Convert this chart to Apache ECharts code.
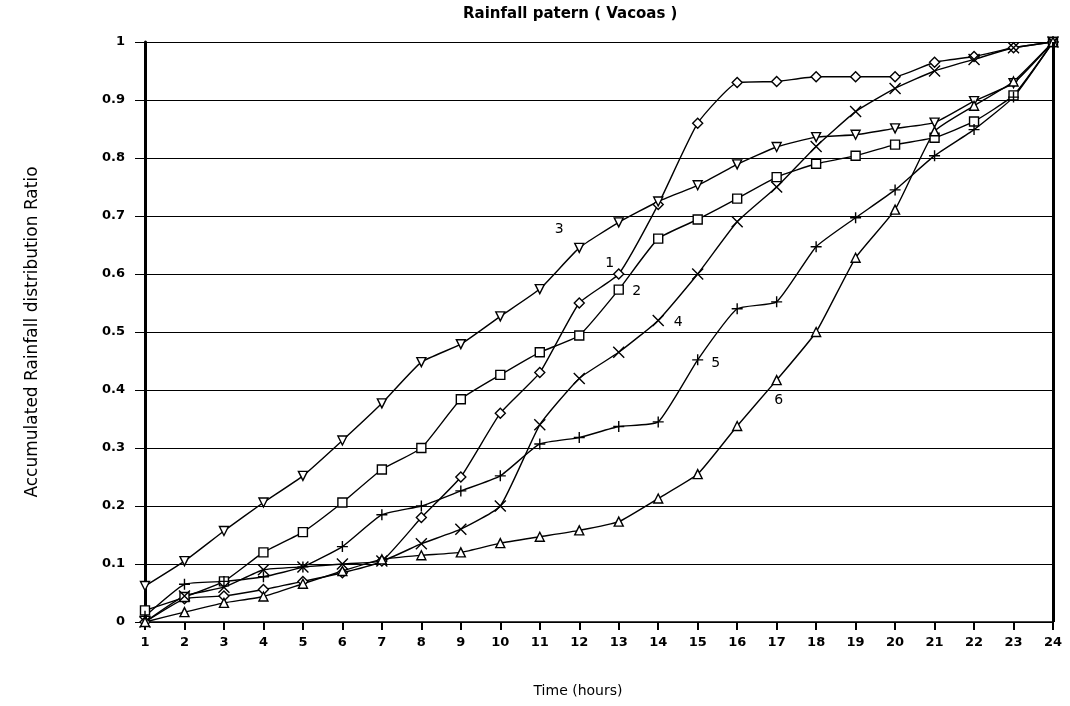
<!DOCTYPE html>
<html>
<head>
<meta charset="utf-8">
<title>Rainfall patern (Vacoas)</title>
<script src="https://cdn.jsdelivr.net/npm/echarts@6/dist/echarts.min.js"></script>
<style>
  html, body { margin: 0; padding: 0; background: #fff; }
  #main { width: 1070px; height: 706px; }
</style>
</head>
<body>
<div id="main"></div>
<script>
// hours on the x axis
const hours = [1,2,3,4,5,6,7,8,9,10,11,12,13,14,15,16,17,18,19,20,21,22,23,24];
const yTicks = [0,0.1,0.2,0.3,0.4,0.5,0.6,0.7,0.8,0.9,1];

// accumulated ratio per pattern
const pattern1 = [0.00,0.040,0.045,0.056,0.070,0.085,0.105,0.180,0.250,0.360,0.430,0.550,0.600,0.720,0.860,0.930,0.932,0.940,0.940,0.940,0.965,0.975,0.990,1.00];
const pattern2 = [0.02,0.043,0.070,0.120,0.155,0.206,0.263,0.300,0.384,0.426,0.465,0.494,0.573,0.661,0.694,0.730,0.767,0.790,0.804,0.823,0.835,0.863,0.908,1.00];
const pattern3 = [0.062,0.105,0.157,0.206,0.252,0.313,0.377,0.448,0.479,0.527,0.574,0.645,0.689,0.725,0.753,0.789,0.819,0.836,0.840,0.851,0.861,0.898,0.929,1.00];
const pattern4 = [0.00,0.045,0.060,0.090,0.095,0.100,0.105,0.135,0.160,0.200,0.340,0.420,0.465,0.520,0.600,0.690,0.750,0.820,0.880,0.920,0.950,0.970,0.990,1.00];
const pattern5 = [0.01,0.065,0.070,0.078,0.095,0.130,0.185,0.200,0.226,0.252,0.307,0.318,0.337,0.345,0.452,0.540,0.552,0.647,0.697,0.745,0.804,0.849,0.905,1.00];
const pattern6 = [0.00,0.017,0.033,0.044,0.066,0.088,0.108,0.115,0.120,0.136,0.147,0.158,0.173,0.213,0.255,0.338,0.417,0.500,0.628,0.711,0.846,0.890,0.932,1.00];

const FONT = 'DejaVu Sans';
const crossPath = 'path://M0,0L10,10M10,0L0,10';
const plusPath = 'path://M5,0L5,10M0,5L10,5';

// builds [hour, value] pairs, with the curve number shown next to one point
function makeData(values, labelHour, labelText, offset) {
    return values.map((v, i) => {
        if (hours[i] !== labelHour) return [hours[i], v];
        return {
            value: [hours[i], v],
            label: {
                show: true, position: 'inside', offset: offset,
                formatter: labelText, color: '#000',
                fontFamily: FONT, fontSize: 14
            }
        };
    });
}

function makeSeries(name, values, symbol, size, rotate, labelHour, labelText, offset) {
    return {
        name: name,
        type: 'line',
        data: makeData(values, labelHour, labelText, offset),
        symbol: symbol,
        symbolSize: size,
        symbolRotate: rotate,
        showAllSymbol: true,
        smooth: 0.15,
        lineStyle: { color: '#000', width: 1.4 },
        itemStyle: { color: '#fff', borderColor: '#000', borderWidth: 1.4 },
        emphasis: { disabled: true },
        z: 3
    };
}

const chart = echarts.init(document.getElementById('main'));
chart.setOption({
    animation: false,
    backgroundColor: '#fff',
    title: {
        text: 'Rainfall patern ( Vacoas )',
        left: 458, top: 2,
        textStyle: { fontFamily: FONT, fontSize: 15, fontWeight: 'bold', color: '#000' }
    },
    grid: { left: 145, right: 17, top: 42, bottom: 84 },
    xAxis: {
        type: 'value',
        min: 1, max: 24, interval: 1,
        name: 'Time (hours)',
        nameLocation: 'middle',
        nameGap: 62,
        nameTextStyle: { fontFamily: FONT, fontSize: 14, color: '#000', padding: [0, 42, 0, 0] },
        axisLine: { onZero: false, lineStyle: { color: '#000', width: 1.5 } },
        axisTick: { show: true, length: 8, lineStyle: { color: '#000', width: 2 } },
        axisLabel: { margin: 14, fontFamily: FONT, fontSize: 13, fontWeight: 'bold', color: '#000' },
        splitLine: { show: false }
    },
    yAxis: {
        type: 'value',
        min: yTicks[0], max: yTicks[yTicks.length - 1], interval: 0.1,
        name: 'Accumulated Rainfall distribution Ratio',
        nameLocation: 'middle',
        nameGap: 104,
        nameTextStyle: { fontFamily: FONT, fontSize: 17, color: '#000' },
        axisLine: { show: true, lineStyle: { color: '#000', width: 3 } },
        axisTick: { show: true, length: 10, lineStyle: { color: '#000', width: 1 } },
        axisLabel: {
            margin: 20, fontFamily: FONT, fontSize: 13, fontWeight: 'bold', color: '#000',
            formatter: v => (v === 0 || v === 1) ? String(v) : v.toFixed(1)
        },
        splitLine: { show: true, lineStyle: { color: '#000', width: 1.2 } }
    },
    series: [
        makeSeries('1', pattern1, 'diamond', 10, 0, 13, '1', [-9, -11]),
        makeSeries('2', pattern2, 'rect', 9, 0, 13, '2', [18, 2]),
        makeSeries('3', pattern3, 'triangle', 9, 180, 12, '3', [-20, -19]),
        makeSeries('4', pattern4, crossPath, 11, 0, 14, '4', [20, 2]),
        makeSeries('5', pattern5, plusPath, 11, 0, 15, '5', [18, 4]),
        makeSeries('6', pattern6, 'triangle', 9, 0, 17, '6', [2, 20]),
        // right frame line
        {
            type: 'line', data: [], silent: true,
            markLine: {
                symbol: 'none', silent: true, label: { show: false },
                lineStyle: { color: '#000', width: 3, type: 'solid' },
                data: [{ xAxis: hours[hours.length - 1] }]
            }
        }
    ]
});
</script>
</body>
</html>
